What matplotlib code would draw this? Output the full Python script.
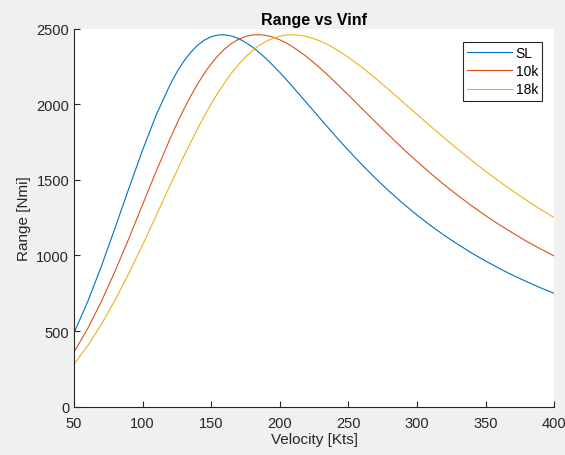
import matplotlib
matplotlib.use('Agg')
import matplotlib.pyplot as plt

# velocity samples [kts] (denser around the peaks)
velocity = [50, 60, 70, 80, 90, 100, 110,
            120, 125, 130, 135, 140, 145, 150, 155, 160, 165, 170, 175, 180,
            185, 190, 195, 200, 205, 210, 215, 220, 225, 230, 235, 240, 245, 250,
            260, 270, 280, 290, 300, 310, 320, 330, 340, 350, 360, 370, 380,
            390, 400]

# range [Nmi]
range_sl = [488, 695, 930, 1184, 1444, 1698, 1931,
            2129, 2213, 2284, 2343, 2390, 2424, 2447, 2458, 2459, 2451, 2434,
            2409, 2379, 2342, 2302, 2257, 2210, 2160, 2109, 2057, 2004, 1952,
            1899, 1847, 1795, 1744, 1695,
            1599, 1508, 1422, 1342, 1267, 1197, 1132, 1072, 1015, 963, 914,
            868, 826, 786, 749]
range_10k = [361, 517, 697, 898, 1113, 1337, 1559,
             1772, 1872, 1966, 2053, 2133, 2205, 2268, 2322, 2367, 2403, 2430,
             2448, 2458, 2460, 2455, 2444, 2426, 2404, 2376, 2345, 2311, 2273,
             2234, 2192, 2149, 2105, 2061,
             1970, 1880, 1791, 1704, 1621, 1542, 1466, 1395, 1327, 1263, 1203,
             1147, 1093, 1043, 996]
range_18k = [281, 403, 545, 706, 882, 1070, 1266,
             1463, 1560, 1656, 1748, 1838, 1923, 2003, 2078, 2146, 2209, 2264,
             2313, 2354, 2389, 2416, 2437, 2450, 2458, 2460, 2456, 2447, 2433,
             2416, 2394, 2369, 2341, 2310,
             2243, 2169, 2092, 2012, 1933, 1853, 1776, 1700, 1627, 1556, 1489,
             1425, 1364, 1305, 1250]

labels = ['SL', '10k', '18k']
colors = ['#0072BD', '#D95319', '#EDB120']

plt.rcParams['font.family'] = ['Liberation Sans', 'DejaVu Sans']

fig = plt.figure(figsize=(5.65, 4.56), dpi=100, facecolor='#F0F0F0')
ax = fig.add_axes([0.131, 0.106, 0.850, 0.829])

for ys, lab, c in zip([range_sl, range_10k, range_18k], labels, colors):
    ax.plot(velocity, ys, color=c, lw=0.8, label=lab)

ax.set_xlim(50, 400)
ax.set_ylim(0, 2500)
ax.set_xticks(range(50, 401, 50))
ax.set_yticks(range(0, 2501, 500))

for side in ['top', 'right']:
    ax.spines[side].set_visible(False)
for side in ['left', 'bottom']:
    ax.spines[side].set_color('#262626')
    ax.spines[side].set_linewidth(0.8)
ax.tick_params(direction='in', length=4, width=0.8, color='#262626',
               labelcolor='#262626', labelsize=10.5)
ax.tick_params(axis='x', pad=7)

ax.set_title('Range vs Vinf', fontsize=11.5, fontweight='bold', pad=3)
ax.set_xlabel('Velocity [Kts]', fontsize=11, color='#262626', labelpad=1)
ax.set_ylabel('Range [Nmi]', fontsize=11, color='#262626', labelpad=4)

leg = ax.legend(loc='upper right', bbox_to_anchor=(0.975, 0.965), fancybox=False,
                framealpha=1, edgecolor='#262626', fontsize=10,
                handlelength=3.2, borderpad=0.3, labelspacing=0.3,
                handletextpad=0.3, borderaxespad=0)
leg.get_frame().set_linewidth(0.8)

plt.savefig('out.png', dpi=100, facecolor=fig.get_facecolor())
